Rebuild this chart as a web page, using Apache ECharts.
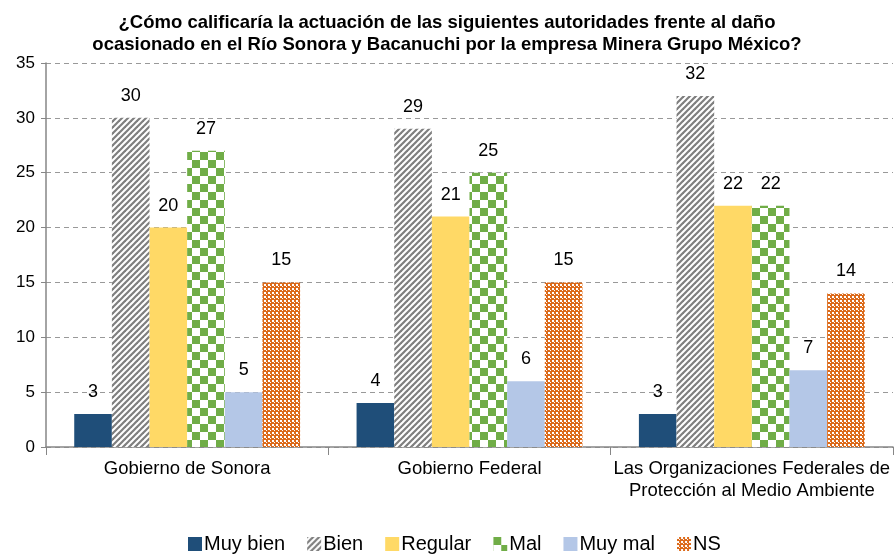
<!DOCTYPE html>
<html><head><meta charset="utf-8">
<script src="https://cdn.jsdelivr.net/npm/echarts@6/dist/echarts.min.js"></script>
<style>html,body{margin:0;padding:0;background:#fff}#c{width:894px;height:555px}</style>
</head><body><div id="c"></div>
<script>
const categories = ['Gobierno de Sonora', 'Gobierno Federal', 'Las Organizaciones Federales de\nProtección al Medio Ambiente'];
const seriesNames = ['Muy bien', 'Bien', 'Regular', 'Mal', 'Muy mal', 'NS'];
const muyBien = [3, 4, 3];
const bien = [30, 29, 32];
const regular = [20, 21, 22];
const mal = [27, 25, 22];
const muyMal = [5, 6, 7];
const ns = [15, 15, 14];
const yTicks = [0, 5, 10, 15, 20, 25, 30, 35];

function tile(w, h, draw) {
  const c = document.createElement('canvas');
  c.width = w; c.height = h;
  const g = c.getContext('2d');
  draw(g);
  return { image: c, repeat: 'repeat' };
}
const bienPat = tile(6, 6, g => {
  g.fillStyle = '#fff'; g.fillRect(0, 0, 6, 6);
  g.strokeStyle = '#7f7f7f'; g.lineWidth = 2.2;
  g.beginPath(); g.moveTo(0, 6); g.lineTo(6, 0); g.stroke();
  g.beginPath(); g.moveTo(-3, 3); g.lineTo(3, -3); g.stroke();
  g.beginPath(); g.moveTo(3, 9); g.lineTo(9, 3); g.stroke();
});
const malPat = tile(16, 16, g => {
  g.fillStyle = '#fff'; g.fillRect(0, 0, 16, 16);
  g.fillStyle = '#70ad47';
  g.fillRect(0, 0, 8, 8); g.fillRect(8, 8, 8, 8);
});
const nsPat = tile(4, 4, g => {
  g.fillStyle = '#dc6a1a'; g.fillRect(0, 0, 4, 4);
  g.fillStyle = '#fff';
  g.fillRect(0, 0, 2, 2); g.fillRect(2, 2, 1, 1);
});

const colors = ['#1f4e79', bienPat, '#ffd966', malPat, '#b4c7e7', nsPat];
const dataSets = [muyBien, bien, regular, mal, muyMal, ns];

const chart = echarts.init(document.getElementById('c'));
chart.setOption({
  animation: false,
  title: {
    text: '¿Cómo calificaría la actuación de las siguientes autoridades frente al daño\nocasionado en el Río Sonora y Bacanuchi por la empresa Minera Grupo México?',
    left: 'center', top: 7,
    textStyle: { fontFamily: 'Liberation Sans, Arial', fontSize: 18.5, fontWeight: 'bold', color: '#000', lineHeight: 22 }
  },
  legend: {
    top: 529, left: 183, itemWidth: 14, itemHeight: 14, itemGap: 22,
    icon: 'rect',
    textStyle: { fontFamily: 'Liberation Sans, Arial', fontSize: 20, color: '#000', padding: [0, 0, 0, -3] },
    data: seriesNames
  },
  grid: { left: 46, right: 1, top: 63, bottom: 108 },
  xAxis: {
    type: 'category', data: categories,
    axisLine: { lineStyle: { color: '#868686', width: 1.5 } },
    axisTick: { show: true, length: 8, lineStyle: { color: '#868686' } },
    axisLabel: { interval: 0, fontFamily: 'Liberation Sans, Arial', fontSize: 18.5, color: '#000', margin: 11, lineHeight: 22 }
  },
  yAxis: {
    type: 'value', min: 0, max: 35, interval: 5,
    axisLine: { show: true, lineStyle: { color: '#868686', width: 1.5 } },
    axisTick: { show: true, length: 5, lineStyle: { color: '#868686' } },
    axisLabel: { fontFamily: 'Liberation Sans, Arial', fontSize: 17, color: '#000', margin: 11,
      formatter: v => yTicks.includes(v) ? String(v) : '' },
    splitLine: { lineStyle: { color: '#999', type: [5, 4] } }
  },
  series: seriesNames.map((n, i) => ({
    name: n, type: 'bar', data: dataSets[i],
    barGap: '0%', barCategoryGap: '20%',
    itemStyle: { color: colors[i] },
    label: { show: true, position: 'top', distance: 13, fontFamily: 'Liberation Sans, Arial', fontSize: 18, color: '#000' }
  }))
});
</script></body></html>
